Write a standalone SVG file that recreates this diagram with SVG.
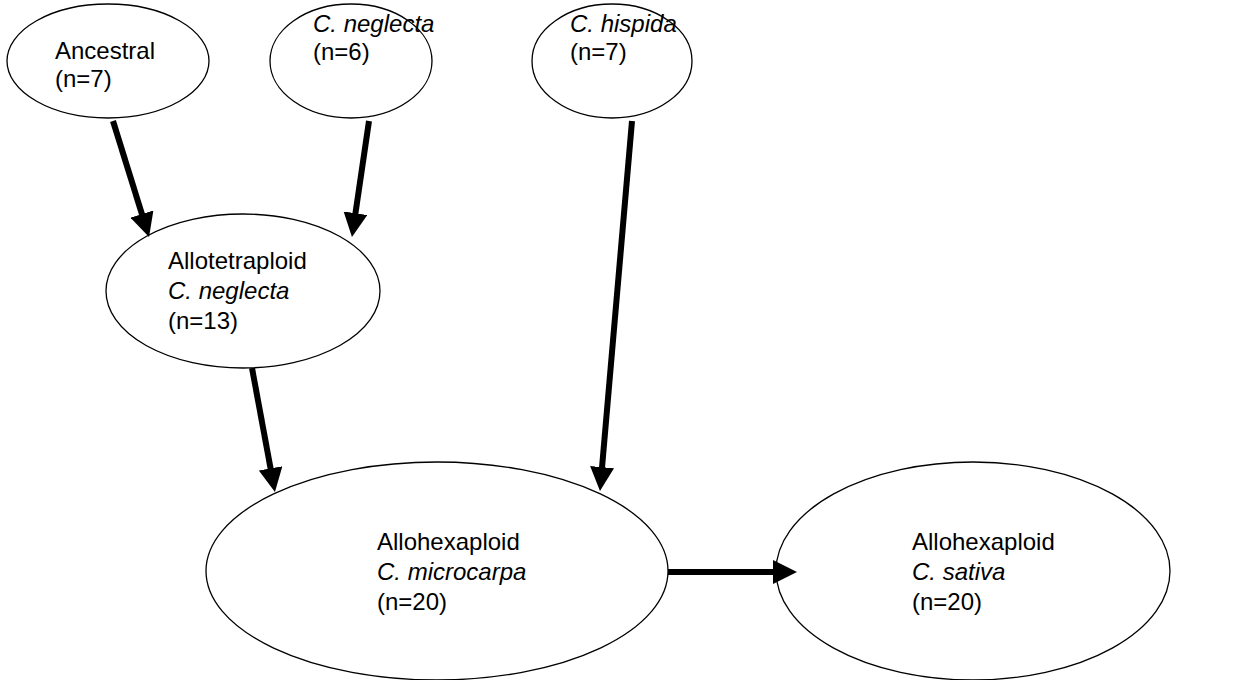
<svg xmlns="http://www.w3.org/2000/svg" width="1259" height="680" viewBox="0 0 1259 680">
<style>
.node ellipse{fill:#fff;stroke:#000;stroke-width:1.3}
.node text{font-family:"Liberation Sans",Arial,sans-serif;font-size:24px;fill:#000}
.it{font-style:italic}
.conn path{fill:none;stroke:#000;stroke-width:6}
</style>
<defs>
<marker id="ah" markerUnits="userSpaceOnUse" markerWidth="24" markerHeight="24" viewBox="0 0 24 24" refX="10" refY="12" orient="auto">
<path d="M0,0 L24,12 L0,24 Z" fill="#000"/>
</marker>
</defs>
<rect width="1259" height="680" fill="#fff"/>
<g id="ancestral" class="node">
<ellipse cx="108" cy="61" rx="101" ry="57"/>
<text x="55" y="59">Ancestral</text>
<text x="55" y="87">(n=7)</text>
</g>
<g id="c-neglecta" class="node">
<ellipse cx="351" cy="61" rx="81" ry="57"/>
<text x="313" y="32" class="it">C. neglecta</text>
<text x="313" y="60">(n=6)</text>
</g>
<g id="c-hispida" class="node">
<ellipse cx="612" cy="61" rx="80" ry="57"/>
<text x="570" y="32" class="it">C. hispida</text>
<text x="570" y="60">(n=7)</text>
</g>
<g id="allotetraploid" class="node">
<ellipse cx="243" cy="291" rx="137" ry="77"/>
<text x="168" y="269">Allotetraploid</text>
<text x="168" y="299" class="it">C. neglecta</text>
<text x="168" y="329">(n=13)</text>
</g>
<g id="c-microcarpa" class="node">
<ellipse cx="437" cy="571" rx="231" ry="109"/>
<text x="377" y="550">Allohexaploid</text>
<text x="377" y="580" class="it">C. microcarpa</text>
<text x="377" y="610">(n=20)</text>
</g>
<g id="c-sativa" class="node">
<ellipse cx="973" cy="571" rx="197" ry="109"/>
<text x="912" y="550">Allohexaploid</text>
<text x="912" y="580" class="it">C. sativa</text>
<text x="912" y="610">(n=20)</text>
</g>
<g id="connectors" class="conn">
<path d="M113,121 L144.9,223.6" marker-end="url(#ah)"/>
<path d="M369,121 L354,223.1" marker-end="url(#ah)"/>
<path d="M632,121 L601.2,477.1" marker-end="url(#ah)"/>
<path d="M252,368 L272.4,478.2" marker-end="url(#ah)"/>
<path d="M668,572 L783,572" marker-end="url(#ah)"/>
</g>
</svg>
